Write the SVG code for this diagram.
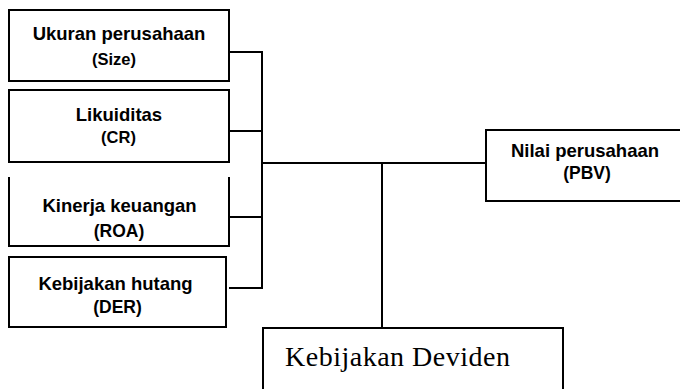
<svg xmlns="http://www.w3.org/2000/svg" width="680" height="389" viewBox="0 0 680 389">
<style>
.box{fill:#fff;stroke:#000;stroke-width:2}
.side{fill:none;stroke:#000;stroke-width:2}
.conn{fill:none;stroke:#000;stroke-width:2}
.lb{font-family:"Liberation Sans",Arial,sans-serif;font-weight:bold;font-size:18.5px;fill:#000;text-anchor:middle}
.sm{font-size:17.5px}
.xs{font-size:16.5px}
.sr{font-family:"Liberation Serif","Times New Roman",serif;font-size:28px;letter-spacing:0.5px;fill:#000}
</style>
<rect width="680" height="389" fill="#fff"/>
<g id="connectors">
<polyline class="conn" points="229,52 262,52 262,288 229,288"/>
<line class="conn" x1="229" y1="131" x2="262" y2="131"/>
<line class="conn" x1="229" y1="217" x2="262" y2="217"/>
<line class="conn" x1="262" y1="163" x2="486" y2="163"/>
<line class="conn" x1="382" y1="163" x2="382" y2="328"/>
</g>
<g id="size">
<rect class="box" x="9" y="10" width="220" height="71"/>
<text class="lb" x="119" y="40">Ukuran perusahaan</text>
<text class="lb xs" x="114" y="65">(Size)</text>
</g>
<g id="cr">
<rect class="box" x="9" y="90" width="220" height="72"/>
<text class="lb" x="119" y="121">Likuiditas</text>
<text class="lb xs" x="118.5" y="143">(CR)</text>
</g>
<g id="roa">
<polyline class="side" points="9,177 9,246 229,246 229,177"/>
<text class="lb" x="119.5" y="212">Kinerja keuangan</text>
<text class="lb sm" x="119" y="237">(ROA)</text>
</g>
<g id="der">
<rect class="box" x="9" y="257" width="217" height="70"/>
<text class="lb" x="115.5" y="290">Kebijakan hutang</text>
<text class="lb sm" x="117.5" y="313">(DER)</text>
</g>
<g id="pbv">
<polyline class="side" points="681,130 486,130 486,201 681,201"/>
<text class="lb" x="585" y="157">Nilai perusahaan</text>
<text class="lb sm" x="587" y="179">(PBV)</text>
</g>
<g id="deviden">
<polyline class="side" points="263,390 263,328 563,328 563,390"/>
<text class="sr" x="285" y="366">Kebijakan Deviden</text>
</g>
</svg>
